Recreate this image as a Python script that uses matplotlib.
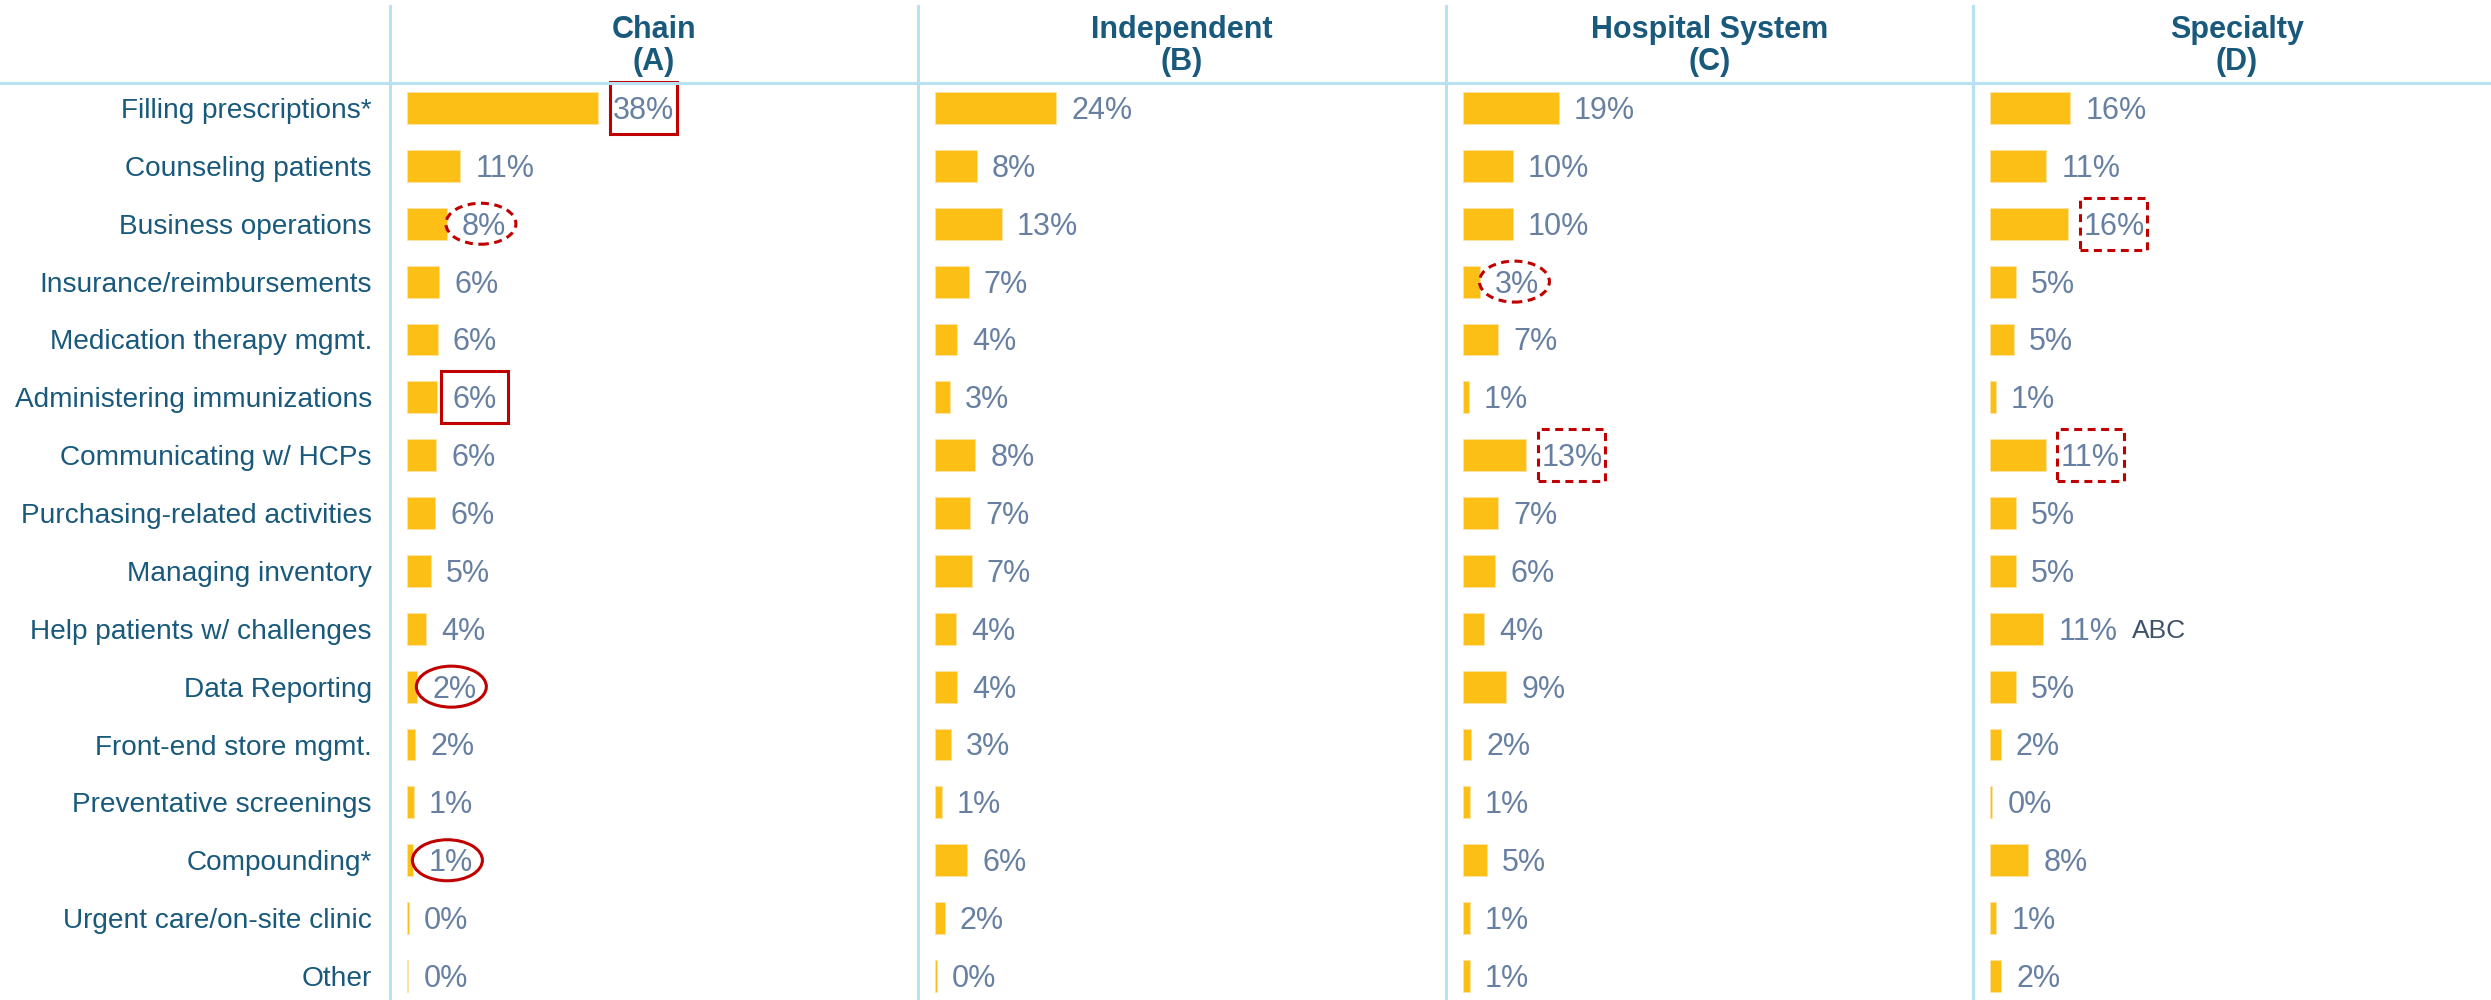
import matplotlib
matplotlib.use("Agg")
import matplotlib.pyplot as plt
from matplotlib.patches import Rectangle, Ellipse
from matplotlib.lines import Line2D

plt.rcParams['font.family'] = ['Liberation Sans', 'DejaVu Sans']

# data (bar lengths, labels are rounded)
categories = ["Filling prescriptions*", "Counseling patients", "Business operations",
              "Insurance/reimbursements", "Medication therapy mgmt.", "Administering immunizations",
              "Communicating w/ HCPs", "Purchasing-related activities", "Managing inventory",
              "Help patients w/ challenges", "Data Reporting", "Front-end store mgmt.",
              "Preventative screenings", "Compounding*", "Urgent care/on-site clinic", "Other"]

headers = ["Chain", "Independent", "Hospital System", "Specialty"]
header_letters = ["(A)", "(B)", "(C)", "(D)"]

chain = [38.1, 10.6, 7.9, 6.4, 6.1, 6.0, 5.8, 5.6, 4.8, 3.7, 2.0, 1.6, 1.3, 1.2, 0.3, 0.2]
independent = [24.2, 8.3, 13.3, 6.7, 4.4, 2.9, 8.0, 7.0, 7.3, 4.1, 4.4, 3.2, 1.3, 6.4, 1.9, 0.3]
hospital = [19.1, 9.9, 9.9, 3.4, 7.0, 1.1, 12.6, 7.0, 6.4, 4.1, 8.6, 1.6, 1.3, 4.8, 1.3, 1.3]
specialty = [16.0, 11.2, 15.6, 5.1, 4.7, 1.1, 11.1, 5.1, 5.1, 10.6, 5.1, 2.1, 0.4, 7.6, 1.2, 2.2]
panels = [chain, independent, hospital, specialty]

# (panel, row, kind) highlight marks round the value labels
marks = [(0, 0, 'box'), (0, 5, 'box'),
         (0, 2, 'dash_ellipse'), (2, 3, 'dash_ellipse'),
         (0, 10, 'ellipse'), (0, 13, 'ellipse'),
         (2, 6, 'dash_box'), (3, 2, 'dash_box'), (3, 6, 'dash_box')]
extra_note = (3, 9, "ABC")

bar_color = "#fbbf16"
label_color = "#19597c"
value_color = "#6780a2"
line_color = "#b8e1f4"
red = "#c00000"

W, H = 2491, 1000
fig = plt.figure(figsize=(W / 100, H / 100), dpi=100)

line_x = [390, 918, 1446, 1973]
top_px = 83
val_fs = 22
axes = []
texts = {}
for i, vals in enumerate(panels):
    left = line_x[i]
    ax = fig.add_axes([left / W, 0, 527.5 / W, (H - top_px) / H])
    ax.barh(range(len(vals)), vals, height=0.55, color=bar_color,
            edgecolor="#fde3a0", linewidth=0.6)
    ax.set_xlim(-3.4, 102.1)
    ax.set_ylim(15.415, -0.432)
    for s in ax.spines.values():
        s.set_visible(False)
    ax.set_xticks([])
    ax.set_yticks([])
    if i == 0:
        for r, cat in enumerate(categories):
            ax.annotate(cat, (0, r), xycoords=('axes fraction', 'data'),
                        xytext=(-13, -7.2), textcoords='offset points',
                        ha='right', va='baseline', fontsize=20.2, color=label_color)
    for r, v in enumerate(vals):
        t = ax.annotate(f"{v:.0f}%", (v, r), xytext=(11, -val_fs * 0.716 / 2),
                        textcoords='offset points', va='baseline', ha='left',
                        fontsize=val_fs, color=value_color)
        texts[(i, r)] = t
    axes.append(ax)

    cx = (left + 527.5 / 2) / W
    fig.text(cx, 1 - 30 / H, headers[i], ha='center', va='center',
             fontsize=22, color=label_color, fontweight='bold')
    fig.text(cx, 1 - 62 / H, header_letters[i], ha='center', va='center',
             fontsize=22, color=label_color, fontweight='bold')

# grid lines
for x in line_x:
    fig.add_artist(Line2D([x / W, x / W], [0, 1 - 6 / H], color=line_color, lw=2.2))
fig.add_artist(Line2D([0, 1], [1 - top_px / H, 1 - top_px / H], color=line_color, lw=2.2))

# ABC note
p, r, note = extra_note
axes[p].annotate(note, (panels[p][r], r), xytext=(64, -19 * 0.716 / 2),
                 textcoords='offset points', va='baseline', ha='left',
                 fontsize=19, color="#3e5269")

# red highlight marks
fig.canvas.draw()
renderer = fig.canvas.get_renderer()
for p, r, kind in marks:
    bb = texts[(p, r)].get_window_extent(renderer)
    cx = (bb.x0 + bb.x1) / 2
    cy = axes[p].transData.transform((0, r))[1]
    ls = '--' if kind.startswith('dash') else '-'
    if kind.endswith('box'):
        w, h = 67, 52
        patch = Rectangle(((cx - w / 2) / W, (cy - h / 2) / H), w / W, h / H,
                          transform=fig.transFigure, fill=False, edgecolor=red,
                          lw=2.2, linestyle=ls)
    else:
        w, h = 70, 41
        patch = Ellipse(((cx - 3) / W, cy / H), w / W, h / H,
                        transform=fig.transFigure, fill=False, edgecolor=red,
                        lw=2.2, linestyle=ls)
    if ls == '--':
        patch.set_linestyle((0, (2.6, 1.8)))
    fig.add_artist(patch)

fig.savefig("out.png", dpi=100)
